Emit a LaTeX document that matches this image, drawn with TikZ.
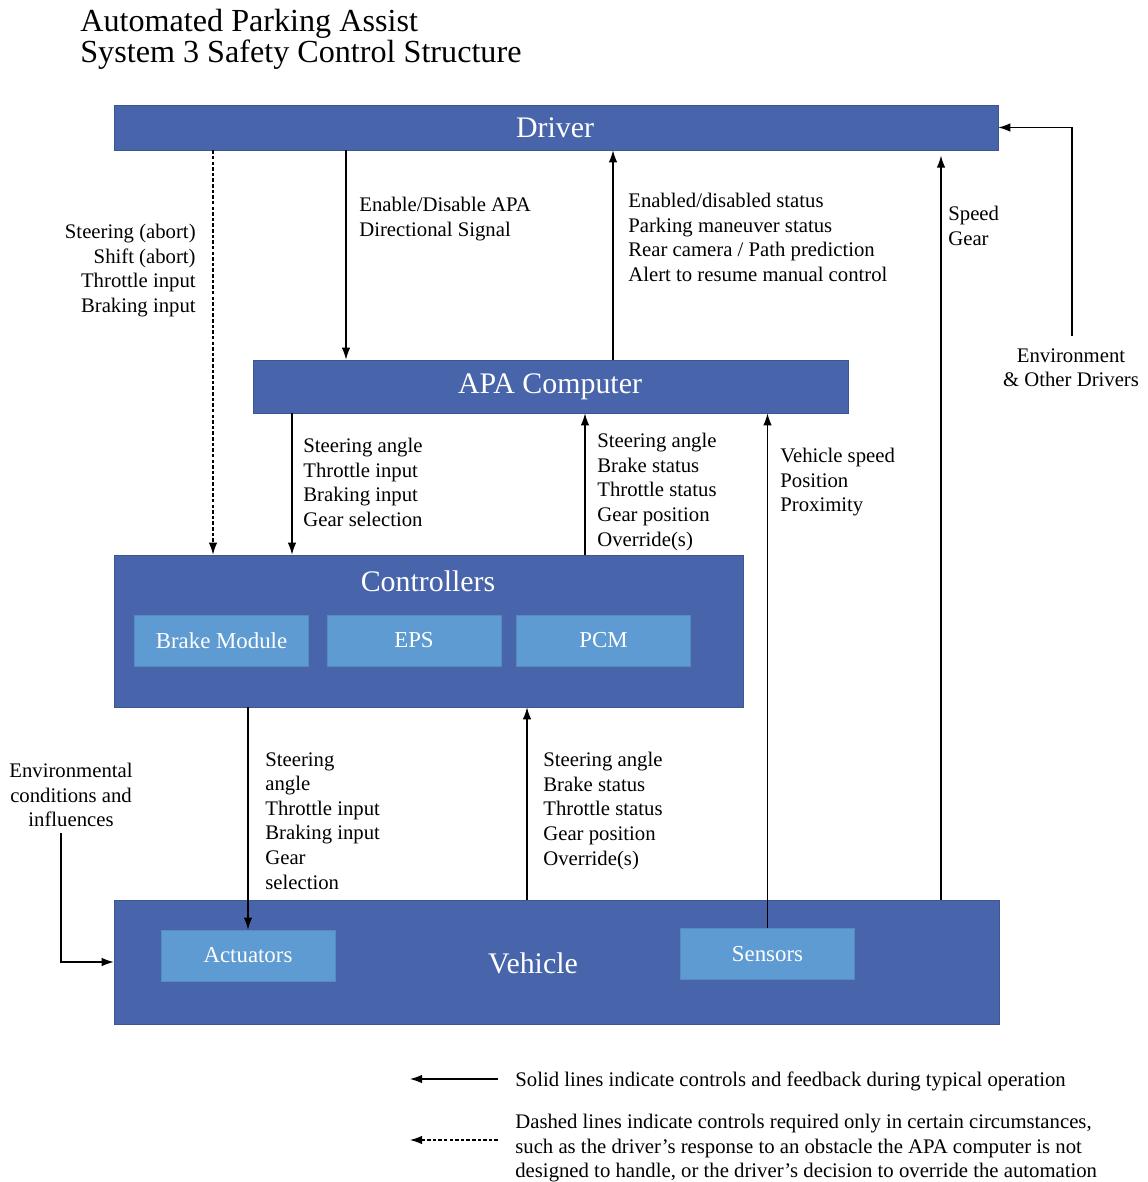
\documentclass[tikz,border=0pt]{standalone}
\usepackage{fontspec}
\setmainfont{Liberation Serif}
\usetikzlibrary{arrows.meta}
\definecolor{boxblue}{HTML}{4865AC}
\definecolor{subblue}{HTML}{5E9BD2}
\begin{document}
\begin{tikzpicture}[x=0.02cm,y=-0.02cm,
  bigbox/.style={draw=boxblue!85!black, line width=0.4pt, fill=boxblue, inner sep=0pt},
  boxtext/.style={text=white, inner sep=0pt, font=\fontsize{17}{20}\selectfont},
  subbox/.style={draw=subblue!90!black, line width=0.4pt, fill=subblue, text=white, inner sep=0pt,
    minimum width=3.48cm, minimum height=1.02cm, font=\fontsize{13}{15}\selectfont},
  lbl/.style={inner sep=0pt, font=\fontsize{11.8}{14}\selectfont, align=left},
  arr/.style={line width=0.7pt, -{Latex[length=2.4mm,width=1.7mm]}},
  darr/.style={arr, dash pattern=on 2pt off 1.2pt},
]
\useasboundingbox (0,0) rectangle (1148,1182);

% title
\node[inner sep=0pt, anchor=north west, align=left, font=\fontsize{18.3}{14.8}\selectfont] (title) at (80,9)
  {Automated Parking Assist\\System 3 Safety Control Structure};

% main blocks
\node[bigbox, minimum width=17.68cm, minimum height=0.9cm] (driver) at (556,127.5) {};
\node[boxtext] (drivertxt) at (555,127.5) {Driver};
\node[bigbox, minimum width=11.9cm, minimum height=1.06cm] (apa) at (550.5,386.5) {};
\node[boxtext] (apatxt) at (550,386.5) {APA Computer};
\node[bigbox, minimum width=12.58cm, minimum height=3.04cm] (ctrl) at (428.5,631) {};
\node[boxtext] (ctrltxt) at (428,581) {Controllers};
\node[bigbox, minimum width=17.7cm, minimum height=2.48cm] (veh) at (556.5,962) {};
\node[boxtext] (vehtxt) at (533,963) {Vehicle};

% sub-blocks
\node[subbox] (brake) at (221.5,640.5) {Brake Module};
\node[subbox] (eps) at (414,640.5) {EPS};
\node[subbox] (pcm) at (603.5,640.5) {PCM};
\node[subbox] (act) at (248,955.5) {Actuators};
\node[subbox] (sens) at (767.5,954) {Sensors};

% connector columns
\coordinate (xd) at (213,0);
\coordinate (xen) at (346,0);
\coordinate (xst) at (613,0);
\coordinate (xsp) at (941,0);
\coordinate (xac) at (292,0);
\coordinate (xfb) at (585,0);
\coordinate (xvs) at (527,0);
\coordinate (xec) at (61,0);

% driver loop
\draw[darr] (driver.south -| xd) -- (ctrl.north -| xd);
\draw[arr] (driver.south -| xen) -- (apa.north -| xen);
\draw[arr] (apa.north -| xst) -- (driver.south -| xst);
\draw[arr, shorten >=3pt] (veh.north -| xsp) -- (driver.south -| xsp);

% APA loop
\draw[arr] (apa.south -| xac) -- (ctrl.north -| xac);
\draw[arr] (ctrl.north -| xfb) -- (apa.south -| xfb);
\draw[arr] (sens.north) -- (apa.south -| sens.north);

% controllers loop
\draw[arr] (ctrl.south -| act.north) -- (act.north);
\draw[arr] (veh.north -| xvs) -- (ctrl.south -| xvs);

% connector labels
\node[lbl, anchor=north east, align=right] (l1) at (196,224)
  {Steering (abort)\\Shift (abort)\\Throttle input\\Braking input};
\node[lbl, anchor=north west] (l2) at (359,197)
  {Enable/Disable APA\\Directional Signal};
\node[lbl, anchor=north west] (l3) at (628,193)
  {Enabled/disabled status\\Parking maneuver status\\Rear camera / Path prediction\\Alert to resume manual control};
\node[lbl, anchor=north west] (l4) at (948,206) {Speed\\Gear};
\node[lbl, anchor=north west] (l6) at (303,438)
  {Steering angle\\Throttle input\\Braking input\\Gear selection};
\node[lbl, anchor=north west] (l7) at (597,433)
  {Steering angle\\Brake status\\Throttle status\\Gear position\\Override(s)};
\node[lbl, anchor=north west] (l8) at (780,448)
  {Vehicle speed\\Position\\Proximity};
\node[lbl, anchor=north west] (l9) at (265,752)
  {Steering\\angle\\Throttle input\\Braking input\\Gear\\selection};
\node[lbl, anchor=north west] (l10) at (543,752)
  {Steering angle\\Brake status\\Throttle status\\Gear position\\Override(s)};

% environment inputs
\node[lbl, anchor=north, align=center] (env) at (1071,348)
  {Environment\\\& Other Drivers};
\draw[arr] (env.north -| 1072,0) ++(0,-12) |- (driver.east);
\node[lbl, anchor=north, align=center] (envc) at (71,763)
  {Environmental\\conditions and\\influences};
\draw[arr] (envc.south -| xec) ++(0,6) |- (veh.west);

% legend
\coordinate (ls1) at (498,1079);
\coordinate (le1) at (410,1079);
\coordinate (ls2) at (498,1140);
\coordinate (le2) at (410,1140);
\draw[arr] (ls1) -- (le1);
\draw[darr] (ls2) -- (le2);
\node[lbl, anchor=west] (leg1) at (515,1081)
  {Solid lines indicate controls and feedback during typical operation};
\node[lbl, anchor=north west] (leg2) at (515,1114)
  {Dashed lines indicate controls required only in certain circumstances,\\such as the driver’s response to an obstacle the APA computer is not\\designed to handle, or the driver’s decision to override the automation};
\end{tikzpicture}
\end{document}
